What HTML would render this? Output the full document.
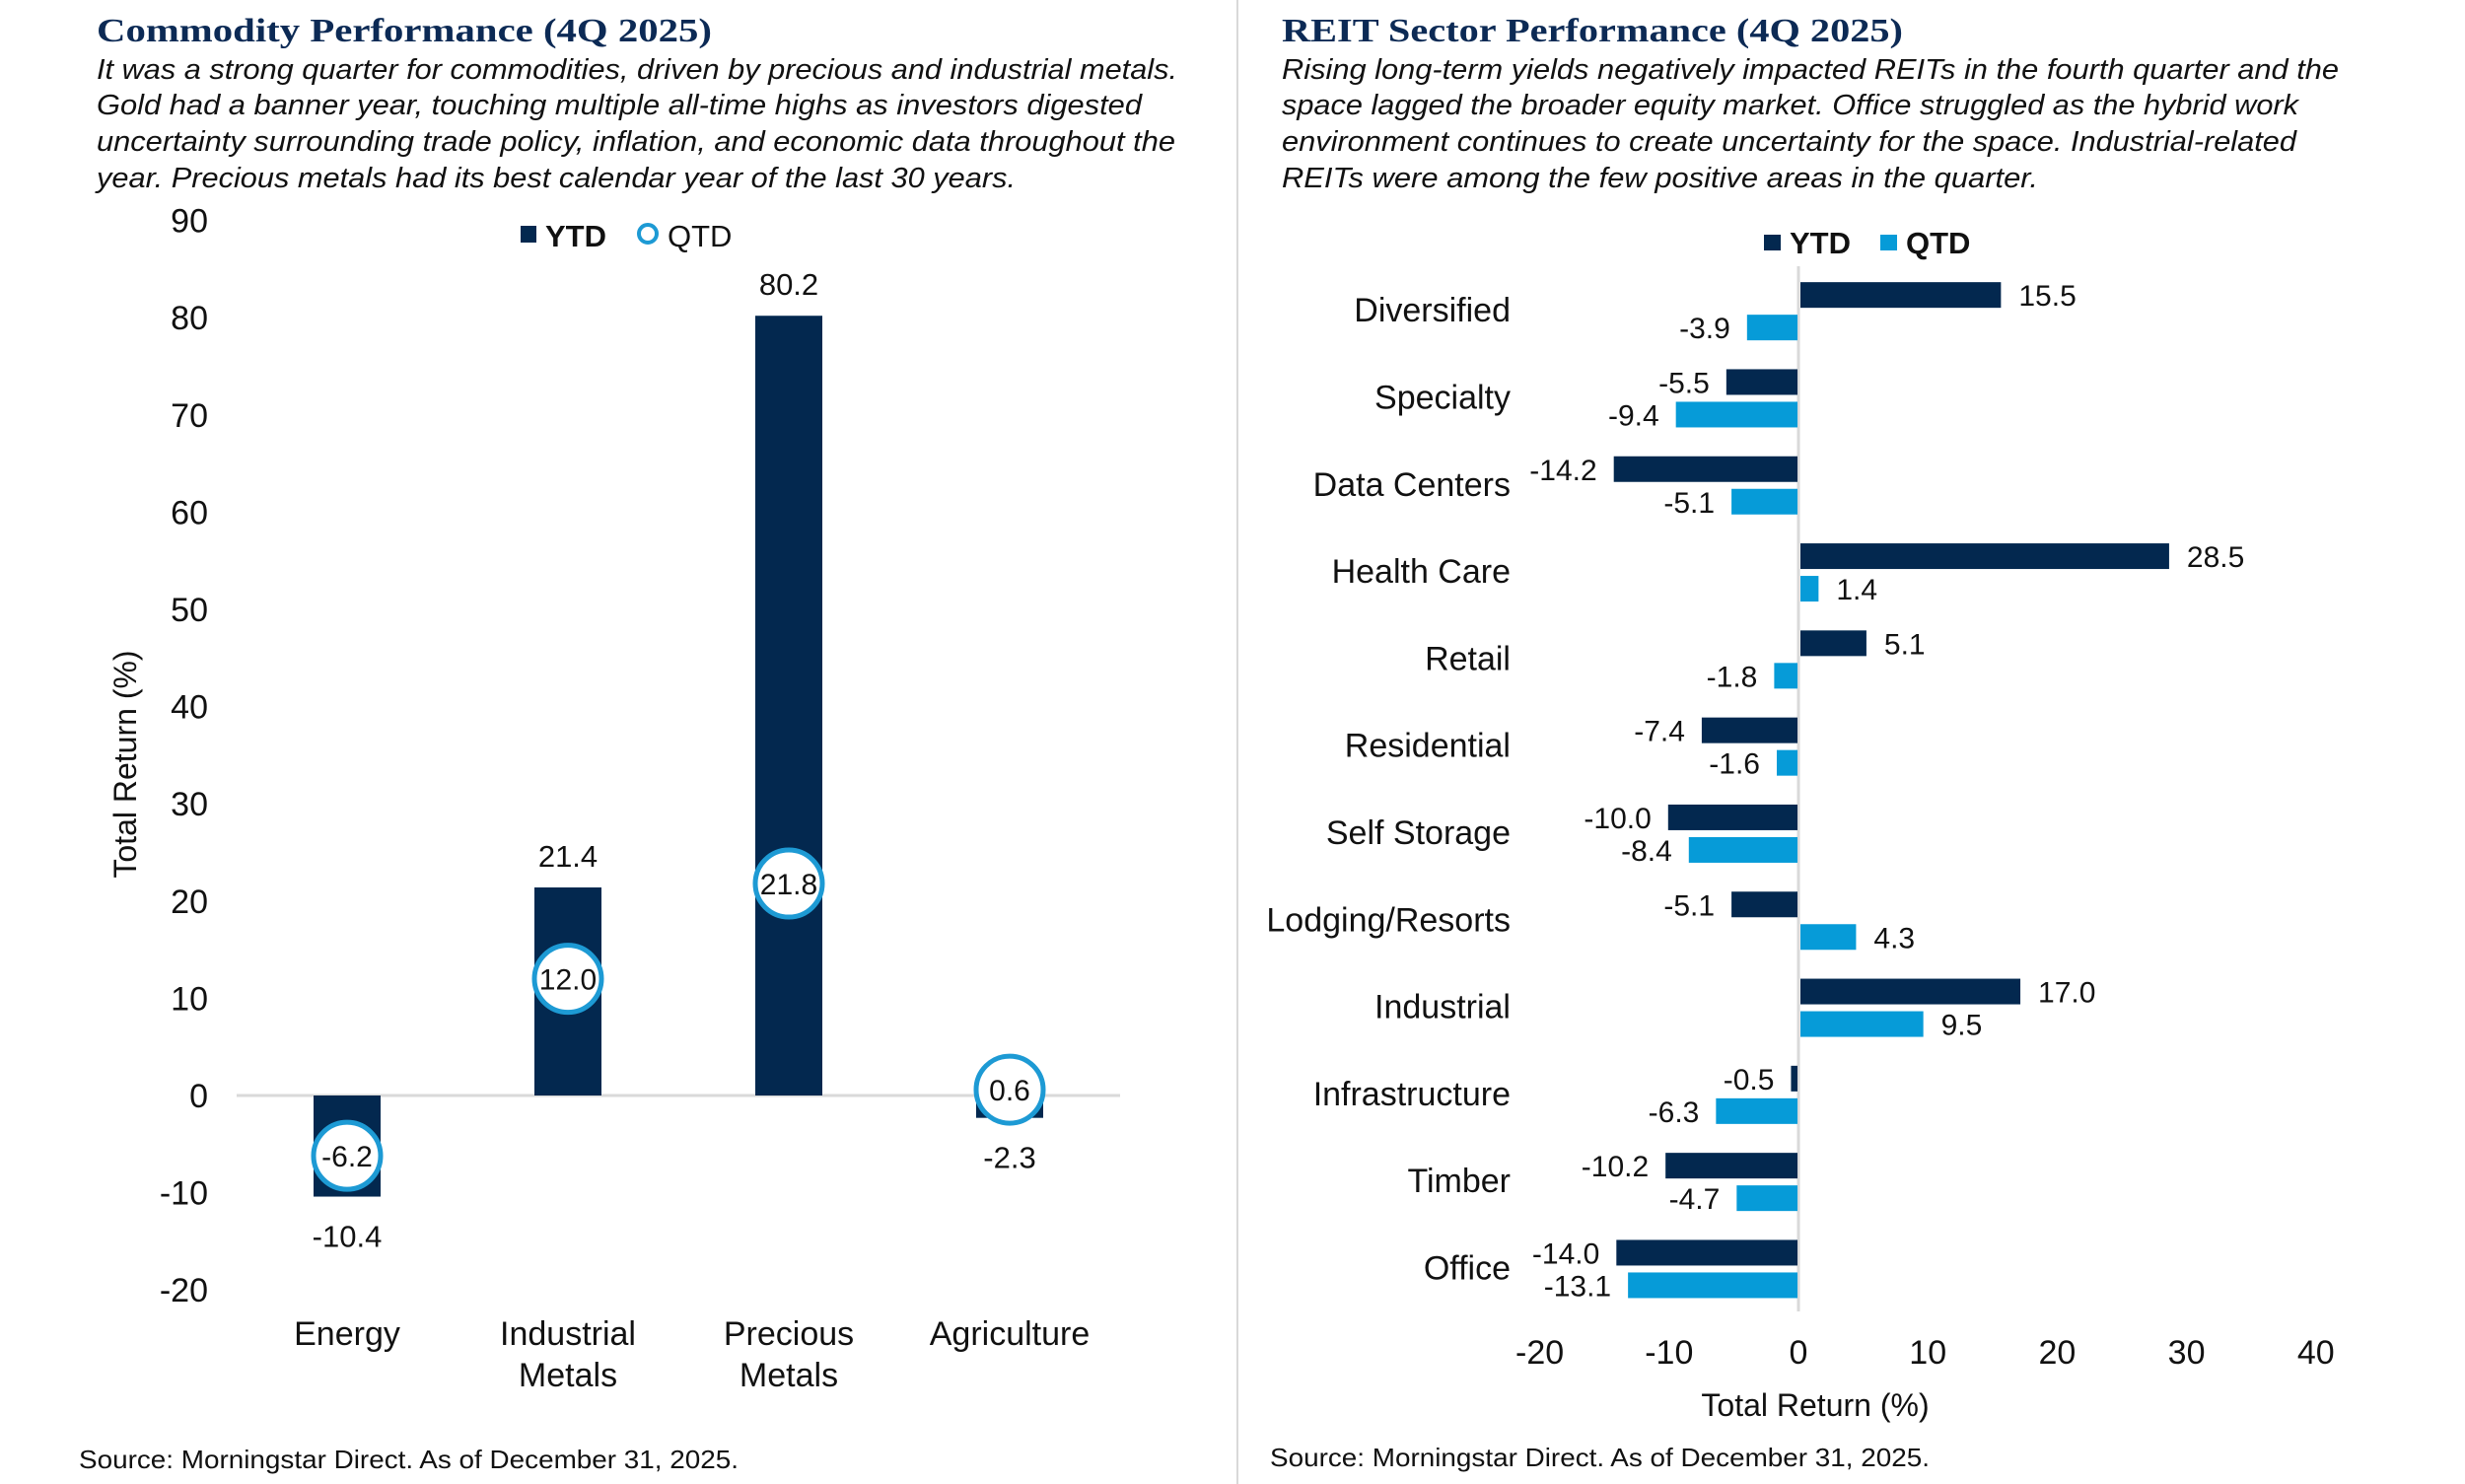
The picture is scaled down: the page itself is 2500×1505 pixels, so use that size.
<!DOCTYPE html>
<html><head><meta charset="utf-8"><style>
html,body{margin:0;padding:0;background:#fff;}
svg{display:block;font-family:"Liberation Sans",Arial,sans-serif;}
</style></head><body>
<svg id="page" width="2500" height="1505" viewBox="0 0 2500 1505" xmlns="http://www.w3.org/2000/svg">
<rect width="2500" height="1505" fill="#fff"/>
<line x1="1255" y1="0" x2="1255" y2="1505" stroke="#d9d9d9" stroke-width="2"/>
<g>
<text x="98" y="42" font-family="Liberation Serif,serif" font-weight="bold" font-size="34" fill="#0c2a55" textLength="624" lengthAdjust="spacingAndGlyphs">Commodity Performance (4Q 2025)</text>
<g font-style="italic" font-size="29" fill="#111">
<text x="98" y="80" textLength="1096" lengthAdjust="spacingAndGlyphs">It was a strong quarter for commodities, driven by precious and industrial metals.</text>
<text x="98" y="116" textLength="1060" lengthAdjust="spacingAndGlyphs">Gold had a banner year, touching multiple all-time highs as investors digested</text>
<text x="98" y="153" textLength="1094" lengthAdjust="spacingAndGlyphs">uncertainty surrounding trade policy, inflation, and economic data throughout the</text>
<text x="98" y="190" textLength="932" lengthAdjust="spacingAndGlyphs">year. Precious metals had its best calendar year of the last 30 years.</text>
</g></g>
<g>
<text x="1300" y="42" font-family="Liberation Serif,serif" font-weight="bold" font-size="34" fill="#0c2a55" textLength="630" lengthAdjust="spacingAndGlyphs">REIT Sector Performance (4Q 2025)</text>
<g font-style="italic" font-size="29" fill="#111">
<text x="1300" y="80" textLength="1072" lengthAdjust="spacingAndGlyphs">Rising long-term yields negatively impacted REITs in the fourth quarter and the</text>
<text x="1300" y="116" textLength="1031" lengthAdjust="spacingAndGlyphs">space lagged the broader equity market. Office struggled as the hybrid work</text>
<text x="1300" y="153" textLength="1029" lengthAdjust="spacingAndGlyphs">environment continues to create uncertainty for the space. Industrial-related</text>
<text x="1300" y="190" textLength="767" lengthAdjust="spacingAndGlyphs">REITs were among the few positive areas in the quarter.</text>
</g></g>
<g id="left"></g>
<g id="right"></g>
<text x="80" y="1489" font-size="26" fill="#111" textLength="669" lengthAdjust="spacingAndGlyphs">Source: Morningstar Direct. As of December 31, 2025.</text>
<text x="1288" y="1487" font-size="26" fill="#111" textLength="669" lengthAdjust="spacingAndGlyphs">Source: Morningstar Direct. As of December 31, 2025.</text>
</svg>
<script>
const NS="http://www.w3.org/2000/svg";
const NAVY="#03284f", BLUE="#069bd8";
// Commodity data
const comCategories=[["Energy"],["Industrial","Metals"],["Precious","Metals"],["Agriculture"]];
const comYTD=[-10.4,21.4,80.2,-2.3];
const comQTD=[-6.2,12.0,21.8,0.6];
const comTicks=[90,80,70,60,50,40,30,20,10,0,-10,-20];
// REIT data
const reitCategories=["Diversified","Specialty","Data Centers","Health Care","Retail","Residential","Self Storage","Lodging/Resorts","Industrial","Infrastructure","Timber","Office"];
const reitYTD=[15.5,-5.5,-14.2,28.5,5.1,-7.4,-10.0,-5.1,17.0,-0.5,-10.2,-14.0];
const reitQTD=[-3.9,-9.4,-5.1,1.4,-1.8,-1.6,-8.4,4.3,9.5,-6.3,-4.7,-13.1];
const reitTicks=[-20,-10,0,10,20,30,40];

function el(parent,tag,attrs,txt){const e=document.createElementNS(NS,tag);for(const k in attrs)e.setAttribute(k,attrs[k]);if(txt!==undefined)e.textContent=txt;parent.appendChild(e);return e;}

// ---- left chart
const L=document.getElementById('left');
const ly=v=>1111-v*9.86;
const plotL=240, plotR=1136, band=(plotR-plotL)/comCategories.length;
const lx=i=>plotL+band*(i+0.5);
comTicks.forEach(t=>{const e=el(L,'text',{x:211,y:ly(t)+12,'text-anchor':'end','font-size':34,fill:'#111'},String(t));

});
let yt=el(L,'text',{x:0,y:0,'font-size':32,fill:'#111','text-anchor':'middle',transform:'translate(138,775) rotate(-90)'},'Total Return (%)');


let zl=el(L,'line',{x1:plotL,x2:plotR,y1:ly(0),y2:ly(0),stroke:'#d9d9d9','stroke-width':3});


comYTD.forEach((v,i)=>{
 const cx=lx(i), y0=ly(0), y1=ly(v);
 const r=el(L,'rect',{x:cx-34,y:Math.min(y0,y1),width:68,height:Math.abs(y1-y0),fill:NAVY});
 
 
 const ty=v>=0?y1-21:y1+51;
 const t=el(L,'text',{x:cx,y:ty,'text-anchor':'middle','font-size':31,fill:'#111'},v.toFixed(1));
 
 
});
comQTD.forEach((v,i)=>{
 const cx=lx(i), cy=ly(v);
 const c=el(L,'circle',{cx:cx,cy:cy,r:34,fill:'#fff',stroke:'#1d9ad4','stroke-width':5});
 
 
 const t=el(L,'text',{x:cx,y:cy+11,'text-anchor':'middle','font-size':30,fill:'#111'},v.toFixed(1));
 
 
});
comCategories.forEach((lines,i)=>{lines.forEach((s,j)=>{
 const t=el(L,'text',{x:lx(i),y:1364+j*42,'text-anchor':'middle','font-size':34,fill:'#111'},s);
 
 
});});
// legend left
let g=el(L,'g',{});


el(g,'rect',{x:528,y:229,width:16,height:17,fill:NAVY});
el(g,'text',{x:553,y:250,'font-size':31,'font-weight':'bold',fill:'#111'},'YTD');
el(g,'circle',{cx:657,cy:237,r:9,fill:'#fff',stroke:'#1d9ad4','stroke-width':4});
el(g,'text',{x:677,y:250,'font-size':31,fill:'#111'},'QTD');

// ---- right chart
const R=document.getElementById('right');
const rx=v=>1824+v*13.12;
const top0=270, rowH=88.3;
const rc=i=>top0+rowH*(i+0.5);
reitTicks.forEach(t=>{const e=el(R,'text',{x:rx(t),y:1383,'text-anchor':'middle','font-size':34,fill:'#111'},String(t));

});
let xt=el(R,'text',{x:1841,y:1436,'text-anchor':'middle','font-size':32,fill:'#111'},'Total Return (%)');


let ax=el(R,'line',{x1:rx(0),x2:rx(0),y1:top0,y2:1330,stroke:'#d9d9d9','stroke-width':3});


reitCategories.forEach((s,i)=>{
 const t=el(R,'text',{x:1532,y:rc(i)+12,'text-anchor':'end','font-size':34,fill:'#111'},s);
 
 
});
function hbar(v,y,color,name){
 const x0=rx(0),x1=rx(v);
 const r=el(R,'rect',{x:Math.min(x0,x1)+(v>=0?2:-1),y:y,width:Math.max(Math.abs(x1-x0),3),height:26,fill:color});
 
 
 const t=el(R,'text',{x:v>=0?x1+20:x1-18,y:y+24,'text-anchor':v>=0?'start':'end','font-size':30,fill:'#111'},v.toFixed(1));
 
 
}
reitYTD.forEach((v,i)=>hbar(v,rc(i)-28,NAVY,'ytd-bar'));
reitQTD.forEach((v,i)=>hbar(v,rc(i)+5,BLUE,'qtd-bar'));
let g2=el(R,'g',{});


el(g2,'rect',{x:1789,y:238,width:17,height:16,fill:NAVY});
el(g2,'text',{x:1815,y:257,'font-size':31,'font-weight':'bold',fill:'#111'},'YTD');
el(g2,'rect',{x:1907,y:238,width:17,height:16,fill:BLUE});
el(g2,'text',{x:1933,y:257,'font-size':31,'font-weight':'bold',fill:'#111'},'QTD');
</script>
</body></html>
